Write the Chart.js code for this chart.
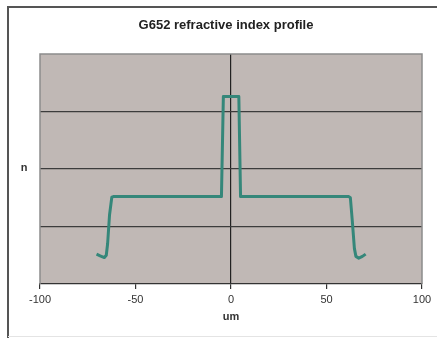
<!DOCTYPE html>
<html><head><meta charset="utf-8">
<script src="https://cdn.jsdelivr.net/npm/chart.js@4"></script>
<style>html,body{margin:0;padding:0;background:#fff}#w{width:437px;height:338px}</style>
</head><body><div id="w"><canvas id="c" width="437" height="338"></canvas></div>
<script>
const xPos = [-70.4, -68.5, -66.3, -65.3, -64.6, -63.6, -62.4, -61.6, -5.0, -4.0, 4.1, 5.0, 61.7, 62.5, 63.5, 64.6, 65.4, 66.9, 68.8, 70.5];
const nVal = [0.52, 0.49, 0.46, 0.50, 0.70, 1.20, 1.51, 1.52, 1.52, 3.26, 3.26, 1.52, 1.52, 1.50, 1.10, 0.62, 0.48, 0.45, 0.48, 0.52];
const xTicks = [-100, -50, 0, 50, 100];
const titleText = 'G652 refractive index profile';
const xTitle = 'um';
const yTitle = 'n';

const points = xPos.map((x, i) => ({x: x, y: nVal[i]}));
const FONT = '"Liberation Sans", Arial, sans-serif';

const deco = {
  id: 'deco',
  beforeDraw(chart) {
    const {ctx, chartArea: a} = chart;
    ctx.save();
    ctx.fillStyle = '#fff';
    ctx.fillRect(0, 0, chart.width, chart.height);
    ctx.strokeStyle = '#555';
    ctx.lineWidth = 2;
    ctx.beginPath();
    ctx.moveTo(8, 338); ctx.lineTo(8, 7); ctx.lineTo(437, 7);
    ctx.stroke();
    ctx.strokeStyle = '#e4e4e4';
    ctx.lineWidth = 1;
    ctx.beginPath(); ctx.moveTo(8, 336.5); ctx.lineTo(437, 336.5); ctx.stroke();
    ctx.fillStyle = '#c0b8b5';
    ctx.fillRect(a.left, a.top, a.right - a.left, a.bottom - a.top);
    ctx.restore();
  },
  afterDraw(chart) {
    const {ctx, chartArea: a} = chart;
    ctx.save();
    ctx.strokeStyle = '#8c8c8c';
    ctx.lineWidth = 1.5;
    ctx.beginPath();
    ctx.moveTo(a.left, a.bottom); ctx.lineTo(a.left, a.top); ctx.lineTo(a.right, a.top); ctx.lineTo(a.right, a.bottom);
    ctx.stroke();
    ctx.textAlign = 'center';
    ctx.textBaseline = 'middle';
    ctx.fillStyle = '#222';
    ctx.font = 'bold 13px ' + FONT;
    ctx.fillText(titleText, 226, 25);
    ctx.fillStyle = '#333';
    ctx.font = 'bold 11px ' + FONT;
    ctx.fillText(yTitle, 24, (a.top + a.bottom) / 2 - 1);
    ctx.restore();
  }
};

new Chart(document.getElementById('c'), {
  type: 'line',
  data: { datasets: [{
    data: points,
    borderColor: '#35877a',
    borderWidth: 3,
    pointRadius: 0,
    tension: 0,
    borderJoinStyle: 'round',
    fill: false
  }]},
  options: {
    responsive: false,
    animation: false,
    layout: { padding: { left: 8, right: 15, top: 54, bottom: 0 } },
    plugins: {
      legend: { display: false },
      tooltip: { enabled: false },
      title: { display: false }
    },
    scales: {
      x: {
        type: 'linear', min: -100, max: 100,
        afterBuildTicks: s => { s.ticks = xTicks.map(v => ({value: v})); },
        afterFit: s => { s.height = 54; },
        grid: {
          color: c => (c.tick && c.tick.value === 0) ? '#222' : 'rgba(0,0,0,0)',
          tickColor: '#333', tickLength: 5, lineWidth: 1.2
        },
        border: { display: true, color: '#333', width: 1.2 },
        ticks: { color: '#333', padding: 4, maxRotation: 0,
          font: { family: FONT, size: 11 } },
        title: { display: true, text: xTitle, color: '#333', padding: { top: 2, bottom: 14 },
          font: { family: FONT, size: 11, weight: 'bold' } }
      },
      y: {
        min: 0, max: 4,
        ticks: { display: false, stepSize: 1 },
        afterFit: s => { s.width = 32; },
        grid: {
          color: c => (c.tick && c.tick.value > 0 && c.tick.value < 4) ? '#3c3c3c' : 'rgba(0,0,0,0)',
          drawTicks: false, lineWidth: 1.2
        },
        border: { display: false }
      }
    }
  },
  plugins: [deco]
});
</script>
</body></html>
